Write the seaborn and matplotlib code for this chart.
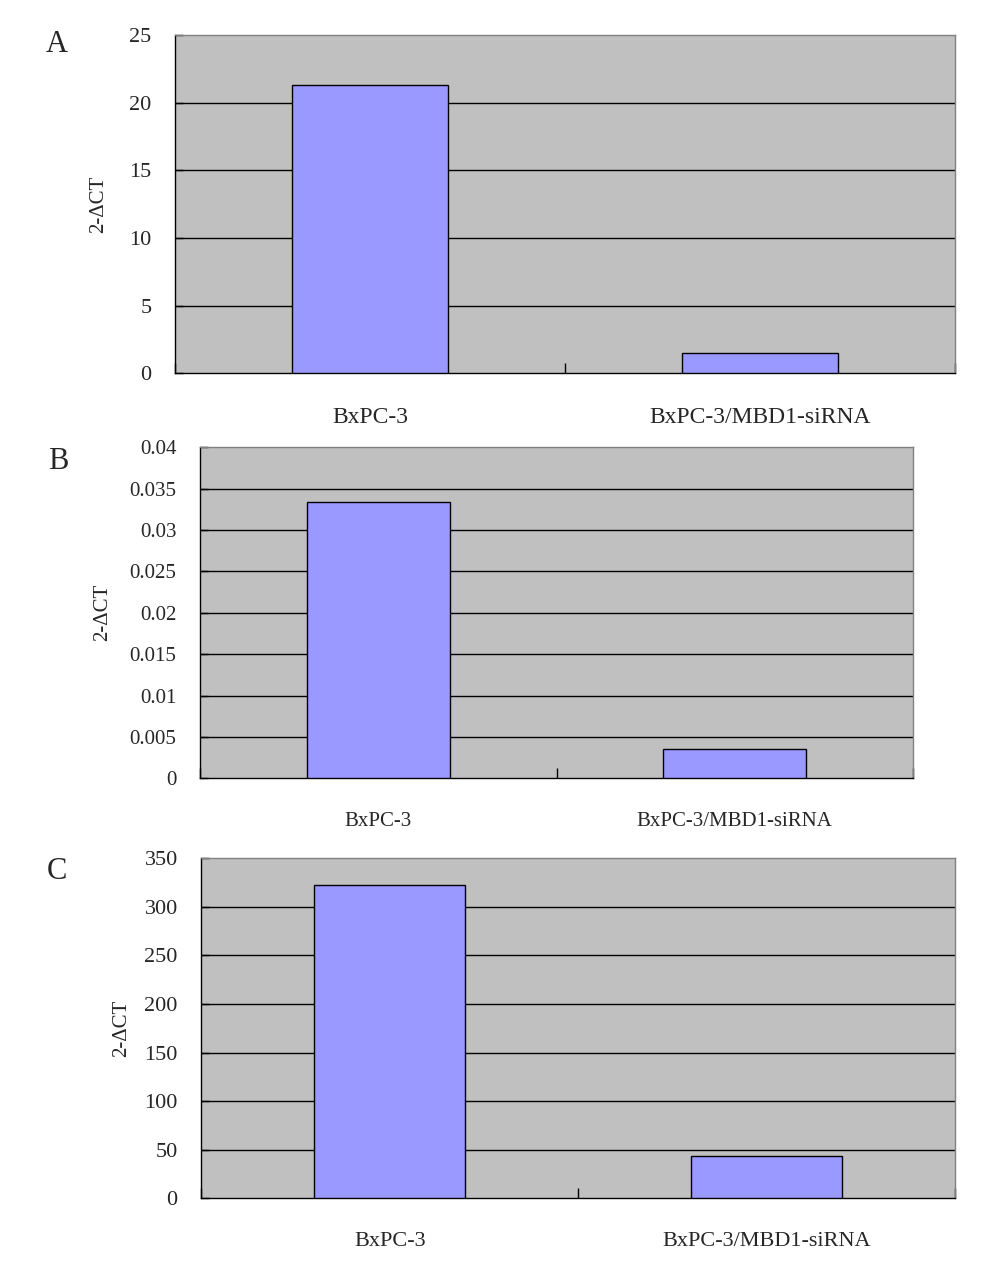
import numpy as np
import pandas as pd
import matplotlib
matplotlib.use('Agg')
import matplotlib.pyplot as plt
import seaborn as sns

# data
categories = ['BxPC-3', 'BxPC-3/MBD1-siRNA']
values_a = [21.3, 1.48]
values_b = [0.0334, 0.0036]
values_c = [323, 44]

panel_letters = ['A', 'B', 'C']
yticks_a = [0, 5, 10, 15, 20, 25]
yticks_b = [0, 0.005, 0.01, 0.015, 0.02, 0.025, 0.03, 0.035, 0.04]
yticks_c = [0, 50, 100, 150, 200, 250, 300, 350]
ytick_labels_b = ['0', '0.005', '0.01', '0.015', '0.02', '0.025', '0.03', '0.035', '0.04']

sns.set_style('white')
plt.rcParams['font.family'] = ['Liberation Serif', 'DejaVu Serif']

fig = plt.figure(figsize=(10, 12.82), dpi=100)

# (rect, values, yticks, ticklabels, ylabel x, tick size, xlabel size, letter pos)
panels = [
    ([0.175, 0.7088, 0.780, 0.2639], values_a, yticks_a, None, -0.086, 16, 17, (0.057, 0.965)),
    ([0.200, 0.3929, 0.713, 0.2582], values_b, yticks_b, ytick_labels_b, -0.123, 15, 15, (0.058, 0.640)),
    ([0.2013, 0.0653, 0.7537, 0.2652], values_c, yticks_c, None, -0.093, 16, 16, (0.057, 0.320)),
]

for letter, (rect, vals, yt, ytl, ylab_x, tsize, xsize, lpos) in zip(panel_letters, panels):
    ax = fig.add_axes(rect)
    ax.set_facecolor('#C0C0C0')
    df = pd.DataFrame({'cell': categories, 'value': vals})
    sns.barplot(data=df, x='cell', y='value', color='#9999FF', saturation=1,
                width=0.4, edgecolor='black', linewidth=1, ax=ax, zorder=3)
    ax.set_xlim(-0.5, 1.5)
    ax.set_ylim(yt[0], yt[-1])
    ax.set_yticks(yt)
    if ytl is not None:
        ax.set_yticklabels(ytl)
    for y in yt[1:-1]:
        ax.axhline(y, color='black', lw=1, zorder=1)

    # category boundary ticks, labels on minor ticks
    ax.set_xticks([-0.5, 0.5, 1.5])
    ax.set_xticklabels(['', '', ''])
    ax.set_xticks([0, 1], minor=True)
    ax.set_xticklabels(categories, minor=True)
    ax.tick_params(axis='x', which='major', bottom=True, direction='in', length=7,
                   width=1, color='black')
    ax.tick_params(axis='x', which='minor', bottom=True, length=0, pad=24, labelsize=xsize)
    ax.tick_params(axis='y', left=True, direction='in', length=6, width=1, color='black',
                   pad=17, labelsize=tsize)

    ax.set_xlabel('')
    ax.set_ylabel('2-ΔCT', fontsize=15)
    ax.yaxis.set_label_coords(ylab_x, 0.5)

    for side in ['top', 'right']:
        ax.spines[side].set_color('#808080')
        ax.spines[side].set_linewidth(1)
    for side in ['left', 'bottom']:
        ax.spines[side].set_color('black')
        ax.spines[side].set_linewidth(1)

    fig.text(lpos[0], lpos[1], letter, fontsize=22, ha='center', va='center')

plt.savefig('out.png', dpi=100)
